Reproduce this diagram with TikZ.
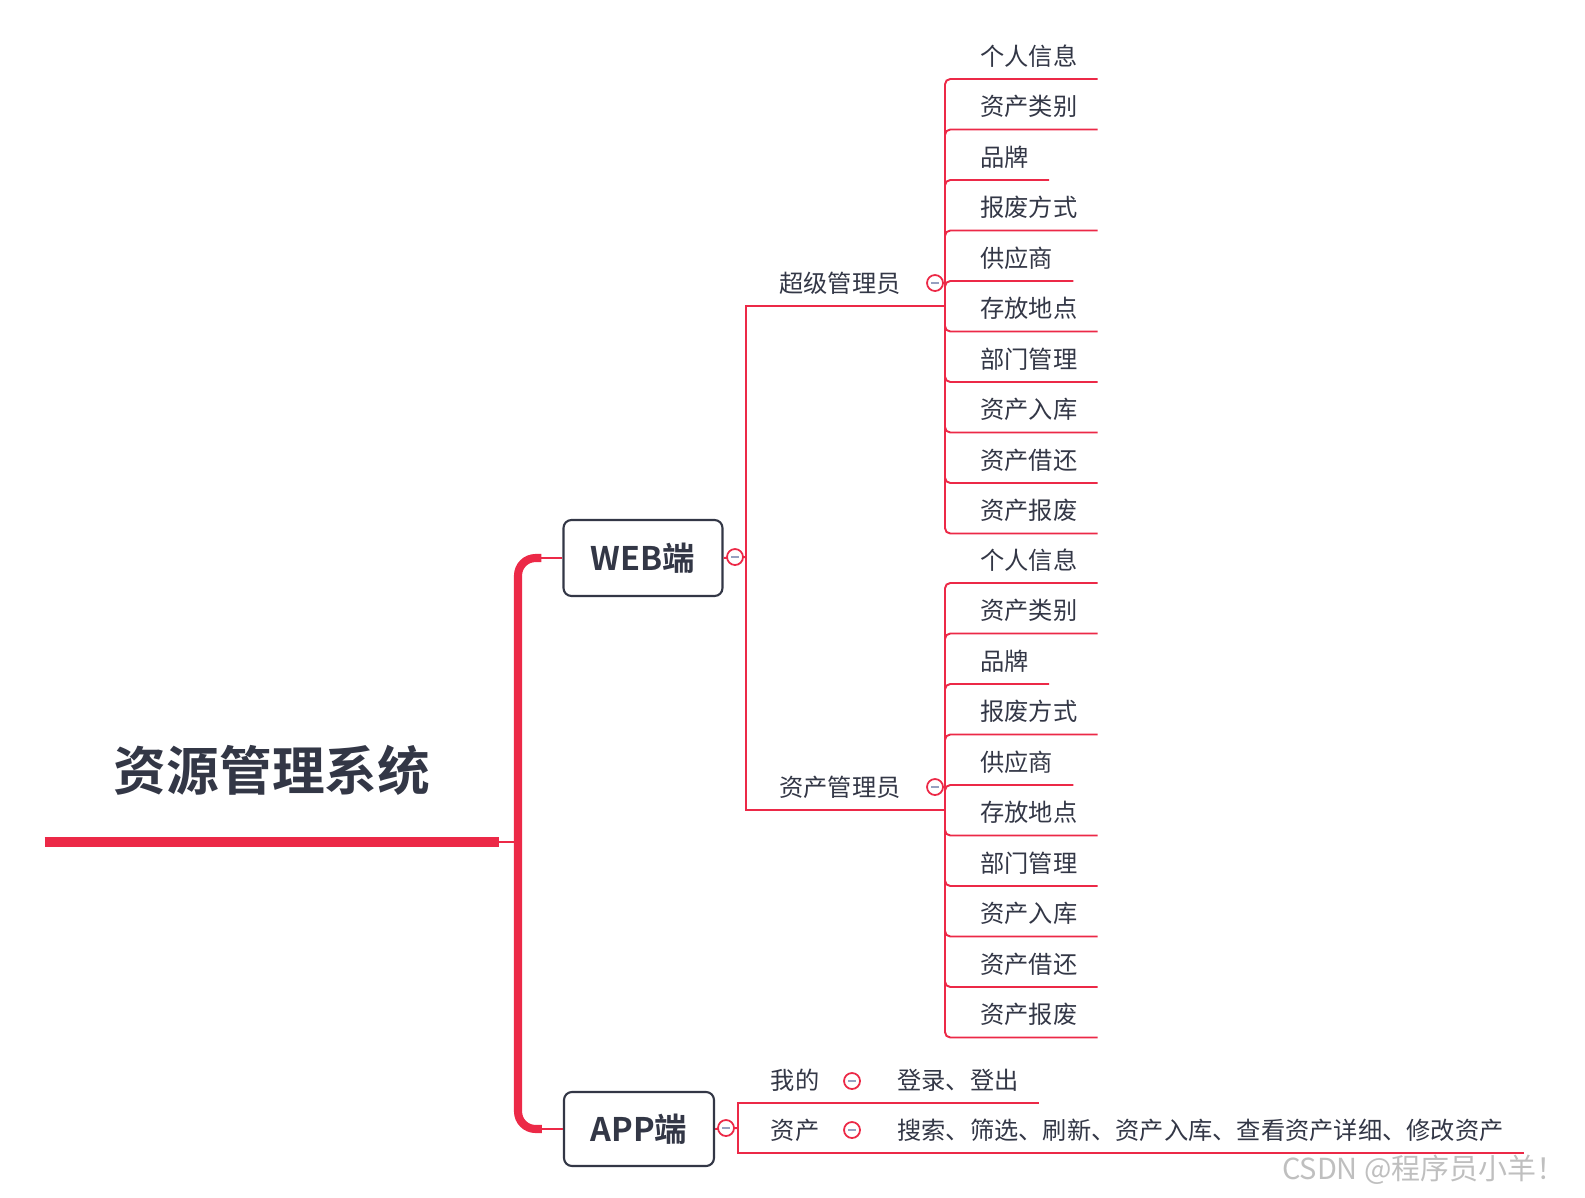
\documentclass[tikz,border=0pt]{standalone}
\usepackage{fontspec}
\setmainfont{Noto Sans CJK SC}[BoldFont={Noto Sans CJK SC Bold}]
\usepackage{tikz}
\usetikzlibrary{positioning}
\definecolor{ink}{RGB}{51,55,70}
\definecolor{mapred}{RGB}{236,41,71}
\definecolor{minusgray}{RGB}{150,160,192}

\begin{document}
\begin{tikzpicture}[x=0.02cm, y=-0.02cm,
  root/.style={anchor=south, font=\fontsize{30}{36}\selectfont\bfseries, text=ink,
               minimum width=9.08cm, inner xsep=0pt, inner ysep=28.9pt, text depth=0pt},
  topic/.style={draw=ink, line width=1.2pt, rounded corners=4.5pt, fill=white,
                font=\fontsize{18.5}{22}\selectfont\bfseries, text=ink},
  branch/.style={anchor=south, font=\fontsize{13.8}{16}\selectfont, text=ink,
                 inner xsep=0pt, inner ysep=7.5pt, text depth=0pt},
  leaf/.style={branch, anchor=south west, inner xsep=0.4cm},
  fold/.style={circle, draw=mapred, line width=1pt, fill=white, minimum size=0.32cm,
               inner sep=0pt, path picture={\draw[minusgray, line width=1.2pt]
               ([xshift=2.4pt]path picture bounding box.west) --
               ([xshift=-2.4pt]path picture bounding box.east);}},
  link/.style={draw=mapred, line width=1.1pt},
  trunk/.style={draw=mapred, line width=4.6pt, rounded corners=10pt}]
\useasboundingbox (0,0) rectangle (1585,1197);
% central topic
\node[root] (root) at (272,842) {资源管理系统};
\draw[mapred, line width=5.7pt] (root.south west) -- (root.south east);
\coordinate (hub) at (518,842);
\draw[link] (root.south east) -- (hub);
% main topics
\node[topic, minimum width=3.18cm, minimum height=1.52cm] (web) at (643,558) {WEB端};
\node[topic, minimum width=3.0cm, minimum height=1.48cm] (app) at (639,1129) {APP端};
\draw[trunk] ([xshift=-12pt]web.west) -| (hub) |- ([xshift=-12pt]app.west);
\draw[link] (web.west) -- ([xshift=-12pt]web.west);
\draw[link] (app.west) -- ([xshift=-12pt]app.west);
% WEB branches
\coordinate (wj) at (746,557);
\coordinate (sj) at (945,306);
\coordinate (aj) at (945,810);
\draw[link] (web.east) -- (wj);
\draw[link] (sj) -| (wj) |- (aj);
\node[branch] (super) at (840,306) {超级管理员};
\node[branch] (admin) at (840,810) {资产管理员};
\foreach \t [count=\i] in {个人信息,资产类别,品牌,报废方式,供应商,存放地点,部门管理,资产入库,资产借还,资产报废} {
  \node[leaf] (sa\i) at (960,28.5+50.5*\i) {\t};
  \node[leaf] (aa\i) at (960,532.5+50.5*\i) {\t};
  \draw[link, rounded corners=3pt] (sj) |- (sa\i.south east);
  \draw[link, rounded corners=3pt] (aj) |- (aa\i.south east);
}
% APP branches
\coordinate (pj) at (738,1128);
\draw[link] (app.east) -- (pj);
\node[branch] (mine) at (795,1103) {我的};
\node[branch] (asset) at (795,1153) {资产};
\node[leaf] (login) at (877,1103) {登录、登出};
\node[leaf] (search) at (877,1153) {搜索、筛选、刷新、资产入库、查看资产详细、修改资产};
\draw[link] (pj) |- (login.south east);
\draw[link] (pj) |- (search.south east);
% collapse markers
\node[fold] (webfold) at (735,557) {};
\node[fold] (appfold) at (726,1128) {};
\node[fold] (superfold) at (935,283) {};
\node[fold] (adminfold) at (935,787) {};
\node[fold] (minefold) at (852,1081) {};
\node[fold] (assetfold) at (852,1130) {};
% watermark
\node[anchor=east, font=\fontsize{16.5}{20}\selectfont, text=black!25] (mark) at (1572,1170) {CSDN @程序员小羊！};
\end{tikzpicture}
\end{document}
